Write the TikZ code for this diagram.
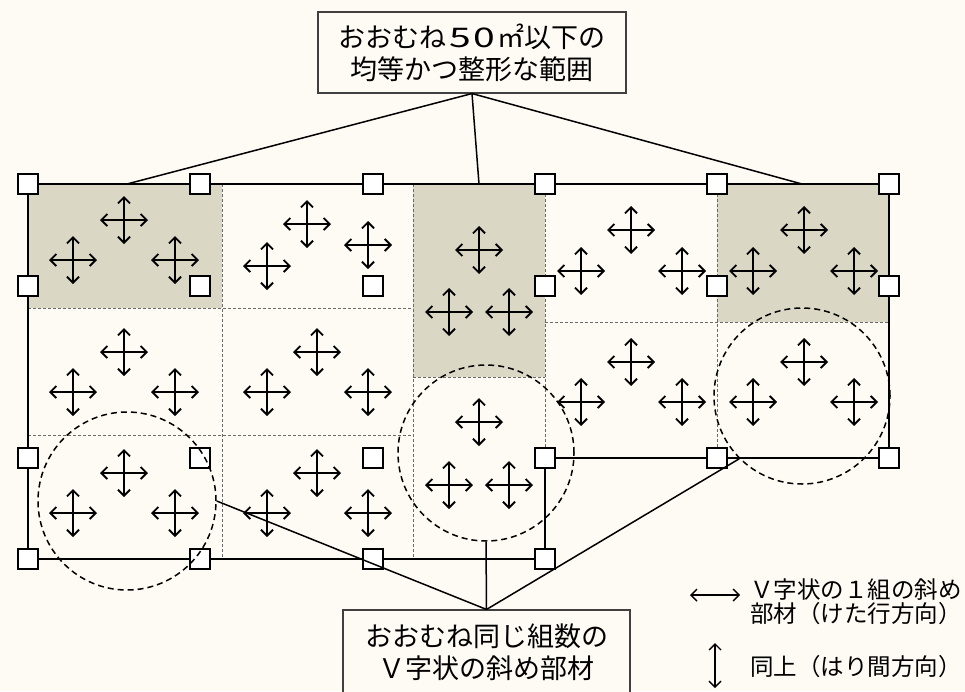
\documentclass[tikz,border=0pt]{standalone}
\usepackage{fontspec}
\setmainfont{Noto Sans CJK JP}
\usetikzlibrary{arrows.meta}
\definecolor{bgc}{RGB}{253,251,243}
\definecolor{shadec}{RGB}{218,215,197}
\definecolor{gridc}{RGB}{105,105,105}
\begin{document}
\begin{tikzpicture}[x=1pt,y=-1pt,
  arr/.style={line width=1.9pt,{Straight Barb[length=6pt,width=12pt]}-{Straight Barb[length=6pt,width=12pt]}},
  legarr/.style={line width=1.4pt,{Straight Barb[length=6pt,width=12pt]}-{Straight Barb[length=6pt,width=12pt]}},
  gridline/.style={gridc,line width=1pt,dash pattern=on 3pt off 2pt},
  outline/.style={line width=2.7pt,line join=miter},
  sq/.style={draw,fill=white,line width=1.7pt,minimum size=20pt,inner sep=0pt},
  zone/.style={circle,draw,line width=1.5pt,dash pattern=on 6pt off 4pt,minimum size=176pt,inner sep=0pt},
  callout/.style={draw=black!75,fill=bgc,line width=1.1pt,inner sep=0pt,align=center,font=\fontsize{27}{32}\selectfont},
  leader/.style={line width=1.5pt},
  legtext/.style={anchor=west,inner sep=0pt,align=left,font=\fontsize{23.5}{24}\selectfont},
  vcross/.pic={\draw[arr] (-24,0) -- (24,0); \draw[arr] (0,-24) -- (0,24);}
]
\useasboundingbox (0,0) rectangle (965,691);
\clip (0,0) rectangle (965,691);
\fill[bgc] (0,0) rectangle (965,691);
% shaded zones
\fill[shadec] (28,184) rectangle (222,308);
\fill[shadec] (413,184) rectangle (545,377);
\fill[shadec] (717,184) rectangle (889,322);
% dotted grid
\draw[gridline] (222,184) -- (222,559);
\draw[gridline] (413,184) -- (413,559);
\draw[gridline] (28,308) -- (413,308);
\draw[gridline] (28,435) -- (413,435);
\draw[gridline] (545,184) -- (545,458);
\draw[gridline] (717,184) -- (717,458);
\draw[gridline] (413,377) -- (545,377);
\draw[gridline] (545,322) -- (889,322);
% outline
\draw[outline] (28,184) -- (889,184) -- (889,458) -- (545,458) -- (545,559) -- (28,559) -- cycle;
% crosses
\foreach \p in {(124,220),(73,260),(175,260),
                (307,224),(267,266),(368,245),
                (124,352),(73,392),(175,392),
                (317,352),(267,392),(368,392),
                (124,473),(73,513),(175,513),
                (317,473),(267,513),(368,513),
                (479,250),(449,312),(509,312),
                (479,422),(449,485),(509,485),
                (631,230),(581,271),(682,271),
                (804,230),(753,271),(854,271),
                (631,362),(581,402),(682,402),
                (804,362),(753,402),(854,402)}
  \pic at \p {vcross};
% squares
\foreach \x [count=\i] in {28,200,373,545,717,889}{
  \node[sq] (sa\i) at (\x,184) {};
  \node[sq] (sb\i) at (\x,286) {};
  \node[sq] (sc\i) at (\x,458) {};
}
\foreach \x [count=\i] in {28,200,373,545}{
  \node[sq] (sd\i) at (\x,559) {};
}
% dashed zones
\node[zone,minimum size=178pt] (c1) at (127,501) {};
\node[zone] (c2) at (486,453) {};
\node[zone] (c3) at (802,396) {};
% top callout
\node[callout,minimum width=308pt,minimum height=81pt] (topbox) at (472,52.5) {おおむね\kern3pt\scalebox{1.45}[1]{5\kern1.5pt0}\kern3pt㎡以下の\\均等かつ整形な範囲};
\coordinate (t1) at (127,184);
\coordinate (t2) at (479,184);
\coordinate (t3) at (802,184);
\draw[leader] (topbox.south) -- (t1);
\draw[leader] (topbox.south) -- (t2);
\draw[leader] (topbox.south) -- (t3);
% bottom callout
\node[callout,minimum width=287pt,minimum height=84pt] (botbox) at (486.5,652) {おおむね同じ組数の\\Ｖ字状の斜め部材};
\draw[leader] (botbox.north) -- (c1.east);
\draw[leader] (botbox.north) -- (c2.south);
\draw[leader] (botbox.north) -- (c3.225);
% legend
\coordinate (lh1) at (690,595);
\coordinate (lh2) at (740,595);
\draw[legarr] (lh1) -- (lh2);
\coordinate (lv1) at (715,643);
\coordinate (lv2) at (715,688);
\draw[legarr] (lv1) -- (lv2);
\node[legtext] (leg1) at (750,602) {Ｖ字状の１組の斜め\\部材（けた行方向）};
\node[legtext] (leg2) at (750,667) {同上（はり間方向）};
\end{tikzpicture}
\end{document}
